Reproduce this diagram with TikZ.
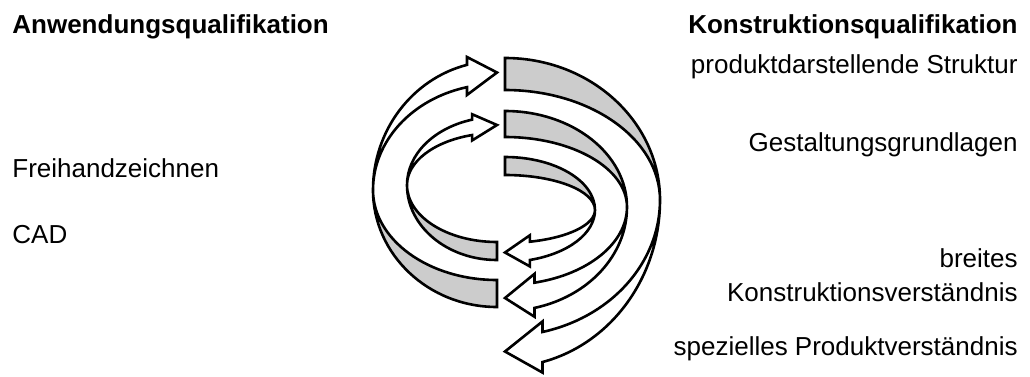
\documentclass[tikz,border=0pt]{standalone}
\usepackage{fontspec}
\setmainfont{Liberation Sans}
\usepackage{tikz}

\tikzset{
	band back/.style={fill=black!20, draw=black, line width=1.3pt},
	band front/.style={fill=white, draw=black, line width=1.3pt},
	qualtext/.style={font=\fontsize{13}{17}\selectfont, inner sep=0pt},
	qualtitle/.style={qualtext, font=\fontsize{13}{17}\selectfont\bfseries}
}

\begin{document}
\begin{tikzpicture}[x=0.5pt, y=-0.5pt]

		\useasboundingbox (0,0) rectangle (1030,376);

		% Define the macro.
		% 1st argument: Rotation, 0 for a right half turn, 180 for a left half turn.
		% 2nd argument: X of the spiral axis.
		% 3rd argument: Y where the band is seen edge-on.
		% 4th argument: X radius of the turn.
		% 5th/6th argument: Outer and inner y radius of the gray half.
		% 7th/8th argument: Inner and outer y radius of the white half.
		% 9th argument: Angle where the arrow head starts.

		\newcommand{\spiralHalf}[9]{
			\pgfmathsetmacro{\midR}{(#7+#8)/2} % Tip of the head.
			\pgfmathsetmacro{\barbIn}{#7-0.35*(#8-#7)}
			\pgfmathsetmacro{\barbOut}{#8+0.35*(#8-#7)}

			% Back of the band.
			\filldraw[band back, shift={(#2,#3)}] (-90+#1:#4 and #5)
				arc[start angle=-90+#1, end angle=#1, x radius=#4, y radius=#5]
				arc[start angle=#1, end angle=-90+#1, x radius=#4, y radius=#6]
				-- cycle;

			% Front of the band with the arrow head.
			\filldraw[band front, shift={(#2,#3)}] (#1:#4 and #8)
				arc[start angle=#1, end angle=#1+#9, x radius=#4, y radius=#8]
				-- (#1+#9:#4 and \barbOut)
				-- (#1+90:#4 and \midR)
				-- (#1+#9:#4 and \barbIn)
				-- (#1+#9:#4 and #7)
				arc[start angle=#1+#9, end angle=#1, x radius=#4, y radius=#7]
				-- cycle;
		}

		% SPIRAL, from the inside out
		\spiralHalf{0}{505}{210}{90}{53}{35}{33}{52}{74}       % inner right
		\spiralHalf{180}{497}{185}{90}{75}{57}{52}{68}{74}     % inner left
		\spiralHalf{0}{505}{207}{122}{96}{70}{78}{104}{76}     % middle right
		\spiralHalf{180}{497}{190}{124}{117}{90}{106}{129}{76} % outer left
		\spiralHalf{0}{505}{200}{155}{142}{110}{136}{167}{76}  % outer right

		% LEFT
		\node[qualtitle, anchor=base west] (anwendung) at (12,33) {Anwendungsqualifikation};
		\node[qualtext, anchor=base west] (freihand) at (12,177) {Freihandzeichnen};
		\node[qualtext, anchor=base west] (cad) at (12,243) {CAD};

		% RIGHT
		\node[qualtitle, anchor=base east] (konstruktion) at (1018,33) {Konstruktionsqualifikation};
		\node[qualtext, anchor=base east] (struktur) at (1018,73) {produktdarstellende Struktur};
		\node[qualtext, anchor=base east] (grundlagen) at (1018,151) {Gestaltungsgrundlagen};
		\node[qualtext, anchor=north east, align=right] (verstaendnis) at (1018,248)
			{breites\\Konstruktionsverständnis};
		\node[qualtext, anchor=base east] (produkt) at (1018,355) {spezielles Produktverständnis};

	\end{tikzpicture}
\end{document}
